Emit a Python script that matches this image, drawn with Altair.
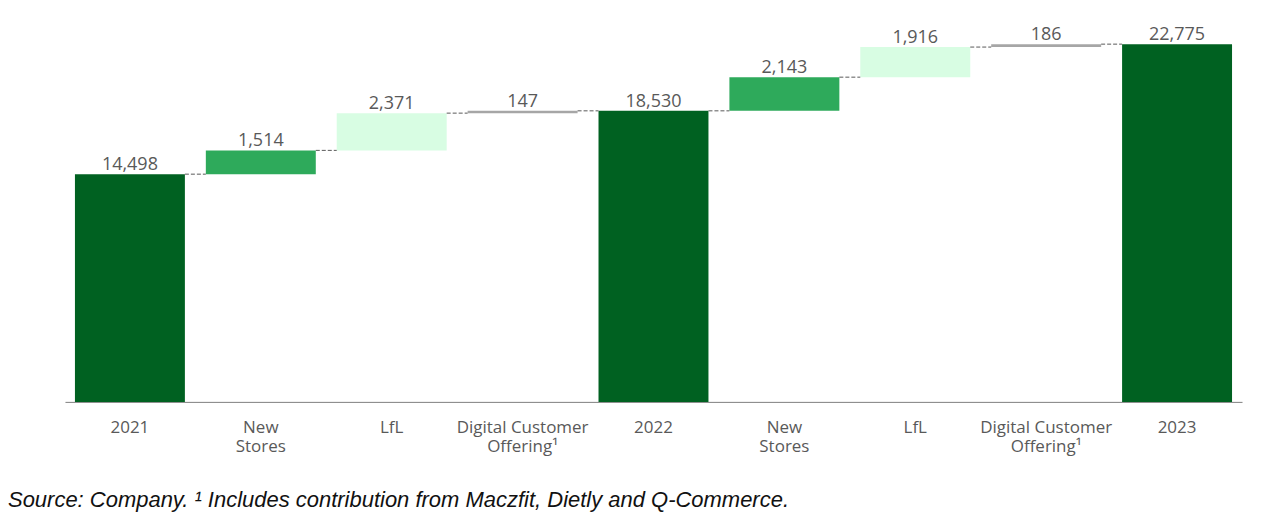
import altair as alt
import pandas as pd

# ---- data ----
categories = ["2021", "New\nStores", "LfL", "Digital Customer\nOffering¹", "2022",
              "New\nStores", "LfL", "Digital Customer\nOffering¹", "2023"]
values = [14498, 1514, 2371, 147, 18530, 2143, 1916, 186, 22775]
kinds = ["total", "new", "lfl", "digital", "total", "new", "lfl", "digital", "total"]
footnote = "Source: Company. ¹ Includes contribution from Maczfit, Dietly and Q-Commerce."

keys = [f"k{i}" for i in range(len(categories))]

# waterfall start / end from the values
starts, ends = [], []
running = 0
for v, k in zip(values, kinds):
    if k == "total":
        starts.append(0)
        ends.append(v)
        running = v
    else:
        starts.append(running)
        running += v
        ends.append(running)

bars = pd.DataFrame({
    "key": keys, "label": categories, "value": values, "kind": kinds,
    "start": starts, "end": ends,
    "top": [max(s, e) for s, e in zip(starts, ends)],
})
conn = pd.DataFrame({
    "key": keys[:-1], "next": keys[1:], "level": ends[:-1],
})
foot = pd.DataFrame({"t": [footnote]})

xscale = alt.Scale(paddingInner=0.16, paddingOuter=0.0763)
yscale = alt.Scale(domain=[0, 25000], nice=False, zero=True)

x_enc = alt.X("key:N", sort=keys, scale=xscale,
              axis=alt.Axis(labels=False, ticks=False, domain=True,
                            domainColor="#7f7f7f", domainWidth=1, title=None, grid=False))

bar_layer = alt.Chart(bars).mark_bar().encode(
    x=x_enc,
    y=alt.Y("start:Q", scale=yscale, axis=None),
    y2="end:Q",
    color=alt.Color("kind:N", legend=None,
                    scale=alt.Scale(domain=["total", "new", "lfl", "digital"],
                                    range=["#006121", "#2eaa5b", "#d8fde3", "#a6a6a6"])),
)

conn_layer = alt.Chart(conn).mark_rule(strokeDash=[4, 2], color="#595959", strokeWidth=1).encode(
    x=alt.X("key:N", sort=keys, bandPosition=1),
    x2=alt.X2("next:N", bandPosition=0),
    y=alt.Y("level:Q"),
)

val_layer = alt.Chart(bars).mark_text(
    baseline="bottom", dy=0, fontSize=18, font="Open Sans", color="#595959"
).encode(
    x=alt.X("key:N", sort=keys),
    y=alt.Y("top:Q"),
    text=alt.Text("value:Q", format=","),
)

xlab_layer = alt.Chart(bars).mark_text(
    baseline="top", fontSize=17, font="Open Sans", color="#595959",
    lineBreak="\n", lineHeight=19,
).encode(
    x=alt.X("key:N", sort=keys),
    y=alt.value(411),
    text="label:N",
)

foot_layer = alt.Chart(foot).mark_text(
    align="left", baseline="middle", fontSize=22, font="Liberation Sans",
    fontStyle="italic", color="#111111",
).encode(
    x=alt.value(-57),
    y=alt.value(491),
    text="t:N",
)

chart = alt.layer(bar_layer, conn_layer, val_layer, xlab_layer, foot_layer).properties(
    width=1178, height=393,
    autosize=alt.AutoSizeParams(type="none"),
    padding={"left": 57, "top": 1, "right": 30, "bottom": 115},
).configure_view(stroke=None)

chart.save("out.html", embed_options={"renderer": "svg", "actions": False})
